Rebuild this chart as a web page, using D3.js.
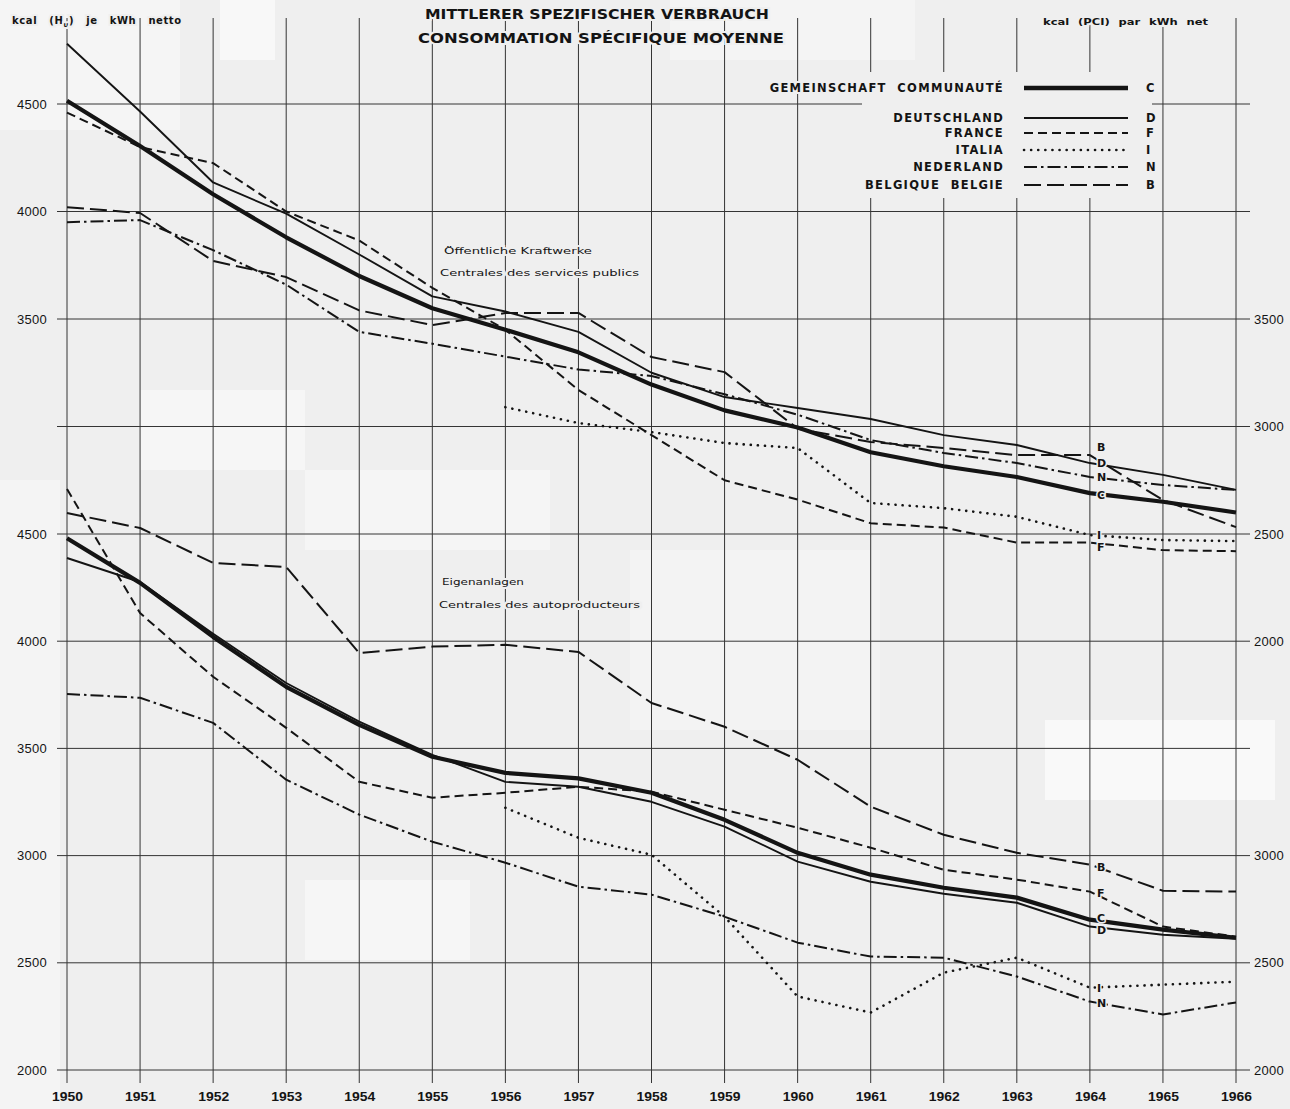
<!DOCTYPE html>
<html><head><meta charset="utf-8">
<script src="https://cdn.jsdelivr.net/npm/d3@7"></script>
<style>
html,body{margin:0;padding:0;background:#efefef;}
svg{display:block;}
</style></head><body>
<svg id="c" width="1290" height="1109"></svg>
<script>
// ---------- DATA ----------
const years = [1950,1951,1952,1953,1954,1955,1956,1957,1958,1959,1960,1961,1962,1963,1964,1965,1966];
const codes = ["C","D","F","I","N","B"];
const names = ["GEMEINSCHAFT  COMMUNAUTÉ","DEUTSCHLAND","FRANCE","ITALIA","NEDERLAND","BELGIQUE  BELGIE"];

// Öffentliche Kraftwerke / Centrales des services publics
const publicC = [4515,4305,4080,3880,3700,3550,3450,3345,3195,3075,2995,2880,2815,2765,2690,2650,2600];
const publicD = [4780,4465,4135,3990,3800,3605,3535,3440,3250,3137,3086,3035,2960,2914,2830,2775,2705];
const publicF = [4460,4300,4225,4000,3865,3645,3450,3170,2960,2750,2660,2550,2530,2460,2460,2425,2420];
const publicI = [null,null,null,null,null,null,3090,3016,2974,2923,2900,2644,2620,2580,2495,2472,2467];
const publicN = [3950,3960,3820,3660,3440,3385,3325,3265,3235,3150,3055,2937,2877,2830,2765,2728,2705];
const publicB = [4020,3993,3770,3695,3540,3472,3528,3528,3323,3253,2990,2928,2900,2867,2867,2658,2532];

// Eigenanlagen / Centrales des autoproducteurs
const autoC = [4480,4272,4020,3787,3610,3461,3386,3360,3293,3167,3013,2911,2850,2804,2701,2655,2617];
const autoD = [4388,4276,4035,3805,3625,3470,3344,3321,3251,3135,2972,2878,2822,2780,2669,2631,2612];
const autoF = [4710,4131,3834,3596,3344,3270,3293,3321,3298,3214,3130,3037,2934,2888,2832,2669,2622];
const autoI = [null,null,null,null,null,null,3223,3083,3004,2715,2343,2268,2454,2524,2384,2398,2412];
const autoN = [3754,3736,3619,3354,3191,3065,2967,2855,2818,2715,2594,2529,2524,2436,2319,2259,2315];
const autoB = [4598,4528,4365,4346,3945,3975,3983,3950,3712,3601,3447,3228,3097,3013,2958,2836,2832];

const leftTicksTop = [4500,4000,3500];
const leftTicksBottom = [4500,4000,3500,3000,2500,2000];
const rightTicksTop = [3500,3000,2500,2000];
const rightTicksBottom = [3000,2500,2000];
const gridTop = [4500,4000,3500,3000];
const gridBottom = [4500,4000,3500,3000,2500,2000];

const labelYear = 1964;

// ---------- STYLE ----------
const BG = "#efefef", INK = "#141414";
const styles = {
  C:{w:4.2, dash:null, cap:"butt"},
  D:{w:1.9, dash:null, cap:"butt"},
  F:{w:2.0, dash:"9,5", cap:"butt"},
  I:{w:2.6, dash:"0.1,7", cap:"round"},
  N:{w:2.0, dash:"13,4,2.5,4", cap:"butt"},
  B:{w:2.0, dash:"17,6", cap:"butt"}
};

const svg = d3.select("#c");
svg.append("rect").attr("width",1290).attr("height",1109).attr("fill",BG);

// faint scan patches
const patches = [[0,0,180,130,"#f5f5f5"],[220,0,55,60,"#f8f8f8"],[670,0,245,60,"#f4f4f4"],
  [140,390,165,80,"#f6f6f6"],[305,470,245,80,"#f5f5f5"],[630,550,250,180,"#f3f3f3"],
  [1045,720,230,80,"#f9f9f9"],[305,880,165,80,"#f6f6f6"],[0,480,60,630,"#f4f4f4"]];
svg.selectAll("rect.p").data(patches).join("rect").attr("class","p")
  .attr("x",d=>d[0]).attr("y",d=>d[1]).attr("width",d=>d[2]).attr("height",d=>d[3]).attr("fill",d=>d[4]);

const x = d3.scaleLinear().domain([1950,1966]).range([67,1236]);
const yTop = d3.scaleLinear().domain([2500,4500]).range([534,104]);
const yBot = d3.scaleLinear().domain([2000,4500]).range([1070,534]);

// ---------- GRID ----------
const g = svg.append("g").attr("stroke",INK).attr("stroke-width",1).attr("opacity",0.85);
g.selectAll("line.v").data(years).join("line").attr("class","v")
  .attr("x1",d=>x(d)).attr("x2",d=>x(d)).attr("y1",18).attr("y2",1083);
g.selectAll("line.ht").data(gridTop).join("line").attr("class","ht")
  .attr("x1",57).attr("x2",1250).attr("y1",d=>yTop(d)).attr("y2",d=>yTop(d));
g.selectAll("line.hb").data(gridBottom).join("line").attr("class","hb")
  .attr("x1",57).attr("x2",1250).attr("y1",d=>yBot(d)).attr("y2",d=>yBot(d));

// ---------- AXES ----------
const axisFont = "'Liberation Sans', Arial, sans-serif";
function styleAxis(sel){
  sel.select(".domain").remove();
  sel.selectAll(".tick line").remove();
  sel.selectAll("text").attr("font-family",axisFont).attr("font-size",13).attr("fill",INK)
    .attr("letter-spacing","0.3px");
}
svg.append("g").attr("transform","translate(67,0)")
  .call(d3.axisLeft(yTop).tickValues(leftTicksTop).tickSize(10).tickPadding(10).tickFormat(d3.format("d"))).call(styleAxis);
svg.append("g").attr("transform","translate(67,0)")
  .call(d3.axisLeft(yBot).tickValues(leftTicksBottom).tickSize(10).tickPadding(10).tickFormat(d3.format("d"))).call(styleAxis);
svg.append("g").attr("transform","translate(1236,0)")
  .call(d3.axisRight(yTop).tickValues(rightTicksTop).tickSize(14).tickPadding(4).tickFormat(d3.format("d"))).call(styleAxis);
svg.append("g").attr("transform","translate(1236,0)")
  .call(d3.axisRight(yBot).tickValues(rightTicksBottom).tickSize(14).tickPadding(4).tickFormat(d3.format("d"))).call(styleAxis);
const xa = svg.append("g").attr("transform","translate(0,1083)")
  .call(d3.axisBottom(x).tickValues(years).tickSize(0).tickPadding(8).tickFormat(d3.format("d")));
xa.select(".domain").remove();
xa.selectAll("text").attr("font-family","'Liberation Sans Narrow','Arial Narrow','Liberation Sans',sans-serif")
  .attr("font-weight","bold").attr("font-size",13.5).attr("fill",INK)
  .attr("textLength",31).attr("lengthAdjust","spacingAndGlyphs");

// ---------- SERIES ----------
const panels = [
  {scale:yTop, data:{C:publicC,D:publicD,F:publicF,I:publicI,N:publicN,B:publicB},
   dy:{B:-8,D:0,N:0,C:2,I:0,F:4}},
  {scale:yBot, data:{C:autoC,D:autoD,F:autoF,I:autoI,N:autoN,B:autoB},
   dy:{B:2,F:1,C:-2,D:3,I:0,N:1}}
];
const drawOrder = ["N","I","B","F","D","C"];
panels.forEach(p=>{
  const line = d3.line().defined(d=>d[1]!=null).x(d=>x(d[0])).y(d=>p.scale(d[1]));
  drawOrder.forEach(code=>{
    const s = styles[code];
    const pts = years.map((yr,i)=>[yr,p.data[code][i]]);
    svg.append("path").datum(pts).attr("d",line).attr("fill","none")
      .attr("stroke",INK).attr("stroke-width",s.w).attr("stroke-linejoin","round")
      .attr("stroke-linecap",s.cap).attr("stroke-dasharray",s.dash);
  });
  // end labels at 1964
  const li = years.indexOf(labelYear);
  codes.forEach(code=>{
    svg.append("text").attr("x",x(labelYear)+7).attr("y",p.scale(p.data[code][li])+p.dy[code])
      .attr("dy","0.36em").attr("font-family","'DejaVu Sans',sans-serif").attr("font-weight","bold")
      .attr("font-size",11).attr("fill",INK)
      .attr("stroke",BG).attr("stroke-width",3).attr("paint-order","stroke")
      .text(code);
  });
});

// ---------- LEGEND ----------
svg.append("rect").attr("x",862).attr("y",72).attr("width",290).attr("height",126).attr("fill",BG);
const legY = [88,118,133,150,167,185];
const lg = svg.append("g");
codes.forEach((code,i)=>{
  const s = styles[code];
  lg.append("text").attr("x",1004).attr("y",legY[i]).attr("dy","0.36em").attr("text-anchor","end")
    .attr("font-family","'DejaVu Sans',sans-serif").attr("font-weight","bold").attr("font-size",11.5)
    .attr("letter-spacing","1.3px").attr("fill",INK)
    .attr("stroke",BG).attr("stroke-width",4).attr("paint-order","stroke")
    .attr("xml:space","preserve").text(names[i]);
  lg.append("line").attr("x1",1024).attr("x2",1128).attr("y1",legY[i]).attr("y2",legY[i])
    .attr("stroke",INK).attr("stroke-width",code==="C"?4.5:s.w).attr("stroke-dasharray",s.dash)
    .attr("stroke-linecap",s.cap);
  lg.append("text").attr("x",1146).attr("y",legY[i]).attr("dy","0.36em")
    .attr("font-family","'DejaVu Sans',sans-serif").attr("font-weight","bold").attr("font-size",11.5)
    .attr("fill",INK).text(code);
});

// ---------- TITLES ----------
function halo(sel){ return sel.attr("stroke",BG).attr("stroke-width",4).attr("paint-order","stroke"); }
halo(svg.append("text").attr("x",597).attr("y",19).attr("text-anchor","middle")
  .attr("font-family","'DejaVu Sans',sans-serif").attr("font-weight","bold").attr("font-size",13.5)
  .attr("fill",INK).attr("textLength",344).attr("lengthAdjust","spacingAndGlyphs")
  .text("MITTLERER  SPEZIFISCHER  VERBRAUCH"));
halo(svg.append("text").attr("x",601).attr("y",43).attr("text-anchor","middle")
  .attr("font-family","'DejaVu Sans',sans-serif").attr("font-weight","bold").attr("font-size",13.5)
  .attr("fill",INK).attr("textLength",366).attr("lengthAdjust","spacingAndGlyphs")
  .text("CONSOMMATION  SPÉCIFIQUE  MOYENNE"));

const uL = halo(svg.append("text").attr("x",12).attr("y",24).attr("font-family","'DejaVu Sans',sans-serif")
  .attr("font-weight","bold").attr("font-size",10).attr("fill",INK).attr("word-spacing","8px")
  .attr("letter-spacing","0.6px"));
uL.append("tspan").text("kcal  (H");
uL.append("tspan").attr("font-size",7).attr("dy",3).text("u");
uL.append("tspan").attr("dy",-3).text(")  je  kWh  netto");
halo(svg.append("text").attr("x",1043).attr("y",25).attr("font-family","'DejaVu Sans',sans-serif")
  .attr("font-weight","bold").attr("font-size",9.5).attr("fill",INK).attr("word-spacing","4px")
  .attr("textLength",165).attr("lengthAdjust","spacingAndGlyphs")
  .text("kcal  (PCI)  par  kWh  net"));

const notes = [
  [444,251,148,"Öffentliche  Kraftwerke"],
  [440,273,199,"Centrales  des  services  publics"],
  [442,582,82,"Eigenanlagen"],
  [439,605,201,"Centrales  des  autoproducteurs"]
];
notes.forEach(n=>{
  halo(svg.append("text").attr("x",n[0]).attr("y",n[1]).attr("dy","0.36em")
    .attr("font-family","'DejaVu Sans',sans-serif").attr("font-size",9).attr("fill",INK)
    .attr("textLength",n[2]).attr("lengthAdjust","spacingAndGlyphs").attr("stroke-width",3)
    .text(n[3]));
});
</script>
</body></html>
